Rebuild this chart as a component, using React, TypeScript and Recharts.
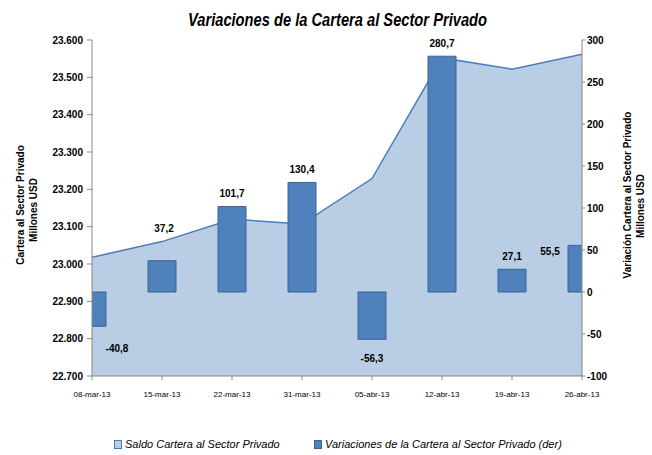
import React from "react";
import {
  ComposedChart,
  Area,
  Bar,
  XAxis,
  YAxis,
  LabelList,
} from "recharts";

// Datos
const DATES = [
  "08-mar-13",
  "15-mar-13",
  "22-mar-13",
  "31-mar-13",
  "05-abr-13",
  "12-abr-13",
  "19-abr-13",
  "26-abr-13",
];
// Saldo (millones USD)
const SALDO = [23018, 23060, 23120, 23107, 23229, 23552, 23522, 23562];
// Variaciones (millones USD, eje derecho)
const VARIACION = [-40.8, 37.2, 101.7, 130.4, -56.3, 280.7, 27.1, 55.5];

const LEFT_TICKS = [22700, 22800, 22900, 23000, 23100, 23200, 23300, 23400, 23500, 23600];
const RIGHT_TICKS = [-100, -50, 0, 50, 100, 150, 200, 250, 300];

const COLORS = {
  area: "#b9cde5",
  line: "#4a7ebb",
  bar: "#4f81bd",
  barStroke: "#3a6596",
  axis: "#868686",
};

const FONT = '"Liberation Sans", Arial, sans-serif';

// ajustes manuales de etiquetas (como en el original)
const LABEL_NUDGE: Record<number, [number, number]> = {
  0: [25, 3],
  1: [2, -19],
  7: [-32, 19],
};

const data = DATES.map((d, i) => ({
  idx: i,
  date: d,
  saldo: SALDO[i],
  variacion: VARIACION[i],
}));

const fmtLeft = (v: number) => (v / 1000).toFixed(3);
const fmtValue = (v: number) => v.toFixed(1).replace(".", ",");

function BarLabel(props: any) {
  const { x, y, width, height, value, index } = props;
  const top = Math.min(y, y + height);
  const bottom = Math.max(y, y + height);
  const cx = x + width / 2;
  let lx = cx;
  let ly = value >= 0 ? top - 13 : bottom + 19;
  const nudge = LABEL_NUDGE[index];
  if (nudge) {
    lx += nudge[0];
    ly += nudge[1];
  }
  return (
    <text
      x={lx}
      y={ly}
      textAnchor="middle"
      dominantBaseline="central"
      fontFamily={FONT}
      fontSize={10}
      fontWeight="bold"
      fill="#000"
    >
      {fmtValue(value)}
    </text>
  );
}

function AxisTitle({ x, lines }: { x: number; lines: [string, number][] }) {
  return (
    <g>
      {lines.map(([t, cy], i) => (
        <text
          key={i}
          x={x + i * 13}
          y={cy}
          transform={`rotate(-90 ${x + i * 13} ${cy})`}
          textAnchor="middle"
          dominantBaseline="central"
          fontFamily={FONT}
          fontSize={10}
          fontWeight="bold"
          fill="#000"
        >
          {t}
        </text>
      ))}
    </g>
  );
}

export default function App() {
  return (
    <div
      style={{
        position: "absolute",
        left: 0,
        top: 0,
        width: 652,
        height: 455,
        background: "#fff",
        fontFamily: FONT,
      }}
    >
      <ComposedChart
        width={652}
        height={455}
        data={data}
        margin={{ top: 40, right: 0, bottom: 49, left: 0 }}
      >
        <text
          x={337.5}
          y={26}
          textAnchor="middle"
          textLength={299}
          lengthAdjust="spacingAndGlyphs"
          fontFamily={FONT}
          fontSize={18}
          fontWeight="bold"
          fontStyle="italic"
          fill="#000"
        >
          Variaciones de la Cartera al Sector Privado
        </text>
        <XAxis
          dataKey="idx"
          type="number"
          domain={[0, 7]}
          ticks={[0, 1, 2, 3, 4, 5, 6, 7]}
          allowDataOverflow
          tickFormatter={(i) => DATES[i]}
          height={30}
          tickSize={4}
          tickMargin={11}
          tick={{ fontSize: 8, fill: "#000", fontFamily: FONT }}
          axisLine={{ stroke: COLORS.axis }}
          tickLine={{ stroke: COLORS.axis }}
        />
        <YAxis
          yAxisId="left"
          domain={[22700, 23600]}
          ticks={LEFT_TICKS}
          allowDataOverflow
          tickFormatter={fmtLeft}
          width={92}
          tickSize={5}
          tickMargin={4}
          tick={{ fontSize: 10, fontWeight: "bold", fill: "#000", fontFamily: FONT }}
          axisLine={{ stroke: COLORS.axis }}
          tickLine={{ stroke: COLORS.axis }}
        />
        <YAxis
          yAxisId="right"
          orientation="right"
          domain={[-100, 300]}
          ticks={RIGHT_TICKS}
          allowDataOverflow
          width={70}
          tickSize={3}
          tickMargin={2}
          tick={{ fontSize: 10, fontWeight: "bold", fill: "#000", fontFamily: FONT }}
          axisLine={{ stroke: COLORS.axis }}
          tickLine={{ stroke: COLORS.axis }}
        />
        <Area
          yAxisId="left"
          dataKey="saldo"
          type="linear"
          fill={COLORS.area}
          fillOpacity={1}
          stroke={COLORS.line}
          strokeWidth={1.5}
          dot={false}
          activeDot={false}
          isAnimationActive={false}
        />
        <Bar
          yAxisId="right"
          dataKey="variacion"
          barSize={28}
          fill={COLORS.bar}
          stroke={COLORS.barStroke}
          strokeWidth={1}
          isAnimationActive={false}
        >
          <LabelList dataKey="variacion" content={BarLabel} />
        </Bar>
        <AxisTitle
          x={20}
          lines={[
            ["Cartera al Sector Privado", 205],
            ["Millones USD", 210],
          ]}
        />
        <AxisTitle
          x={627}
          lines={[
            ["Variación  Cartera al Sector Privado", 195],
            ["Millones USD", 206],
          ]}
        />
      </ComposedChart>
      <div
        style={{
          position: "absolute",
          top: 438,
          left: 114,
          display: "flex",
          alignItems: "center",
          fontSize: 11,
          fontStyle: "italic",
          color: "#000",
          whiteSpace: "nowrap",
        }}
      >
        <span
          style={{
            width: 6,
            height: 7,
            background: COLORS.area,
            border: `1px solid ${COLORS.line}`,
            marginRight: 3,
          }}
        />
        <span style={{ width: 189 }}>Saldo Cartera al Sector Privado</span>
        <span
          style={{
            width: 6,
            height: 7,
            background: COLORS.bar,
            border: `1px solid ${COLORS.barStroke}`,
            marginRight: 3,
          }}
        />
        <span>Variaciones de la Cartera al Sector Privado (der)</span>
      </div>
    </div>
  );
}
